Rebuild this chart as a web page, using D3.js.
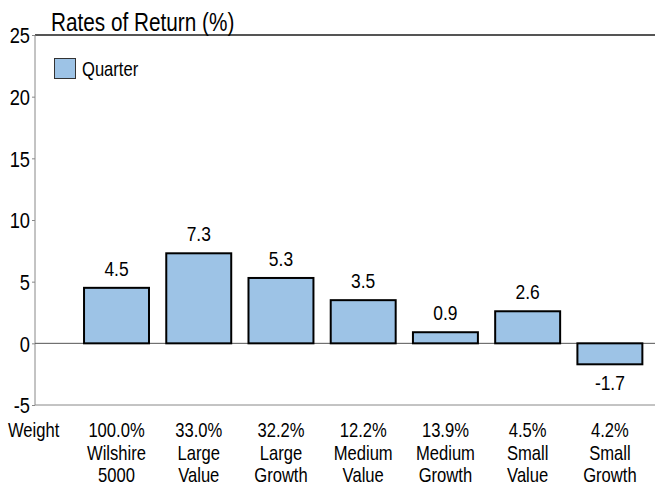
<!DOCTYPE html>
<html><head><meta charset="utf-8">
<script src="https://cdn.jsdelivr.net/npm/d3@7"></script>
<style>body{margin:0;background:#fff}svg{display:block;font-family:"Liberation Sans",Arial,sans-serif}</style>
</head><body><svg id="c" width="655" height="489"></svg>
<script>
const categories = ["Wilshire 5000","Large Value","Large Growth","Medium Value","Medium Growth","Small Value","Small Growth"];
const weights = ["100.0%","33.0%","32.2%","12.2%","13.9%","4.5%","4.2%"];
const labelLine1 = ["Wilshire","Large","Large","Medium","Medium","Small","Small"];
const labelLine2 = ["5000","Value","Growth","Value","Growth","Value","Growth"];
const quarter = [4.5,7.3,5.3,3.5,0.9,2.6,-1.7];
const yTicks = [-5,0,5,10,15,20,25];

(function(){
const svg = d3.select("#c");
const pl = 35, pr = 655, pt = 35, pb = 405;
const SX = 0.83;
const y = d3.scaleLinear().domain([-5,25]).range([pb, pt]);
const x = d3.scaleBand().domain(categories).range([75.4, 651]).paddingInner(0.21).paddingOuter(0.105);
const fmt = v => String(v).replace("\u2212","-");
// narrow text: place at (px,py) and compress horizontally
function ntext(parent, px, py, size, str, anchor){
  return parent.append("text")
    .attr("transform",`translate(${px},${py}) scale(${SX},1)`)
    .attr("font-size",size).attr("fill","#000")
    .attr("text-anchor",anchor||"start").text(str);
}

// frame lines
svg.append("line").attr("x1",pl).attr("x2",pr).attr("y1",pt).attr("y2",pt).attr("stroke","#555").attr("stroke-width",2);
svg.append("line").attr("x1",pl).attr("x2",pr).attr("y1",pb).attr("y2",pb).attr("stroke","#888").attr("stroke-width",1);
svg.append("line").attr("x1",pl).attr("x2",pl).attr("y1",pt).attr("y2",pb).attr("stroke","#888").attr("stroke-width",1);
svg.append("line").attr("x1",pl).attr("x2",pr).attr("y1",y(0)).attr("y2",y(0)).attr("stroke","#555").attr("stroke-width",1);

// y axis
const yAxis = d3.axisLeft(y).tickValues(yTicks).tickSize(3).tickPadding(3).tickFormat(d => String(d));
const ga = svg.append("g").attr("transform",`translate(${pl},0)`).call(yAxis);
ga.attr("font-family",null);
ga.select(".domain").remove();
ga.selectAll(".tick line").attr("stroke","#888");
ga.selectAll(".tick text").attr("font-size",22).attr("fill","#000").attr("dy","0.36em")
  .attr("x",-5/SX).attr("transform",`scale(${SX},1)`);

// title
ntext(svg, 51, 31, 25, "Rates of Return (%)");

// legend
svg.append("rect").attr("x",54.5).attr("y",58.5).attr("width",21).attr("height",20).attr("fill","#9DC3E6").attr("stroke","#333").attr("stroke-width",1);
ntext(svg, 82, 76, 20, "Quarter");

// bars
svg.selectAll("rect.bar").data(quarter).join("rect").attr("class","bar")
  .attr("x",(d,i)=>x(categories[i]))
  .attr("width",x.bandwidth())
  .attr("y",d=>y(Math.max(0,d)))
  .attr("height",d=>Math.abs(y(d)-y(0)))
  .attr("fill","#9DC3E6").attr("stroke","#000").attr("stroke-width",2);

// value labels
quarter.forEach((d,i)=>{
  const cx = x(categories[i])+x.bandwidth()/2;
  const ty = d>=0 ? y(d)-12 : y(d)+26;
  ntext(svg, cx, ty, 21, fmt(d.toFixed(1)), "middle");
});

// bottom labels
ntext(svg, 8, 437, 20, "Weight");
const rows = [weights, labelLine1, labelLine2];
rows.forEach((arr,r)=>{
  arr.forEach((s,i)=>{
    ntext(svg, x(categories[i])+x.bandwidth()/2, 437+r*22.5, 20, s, "middle");
  });
});
})();
</script></body></html>
